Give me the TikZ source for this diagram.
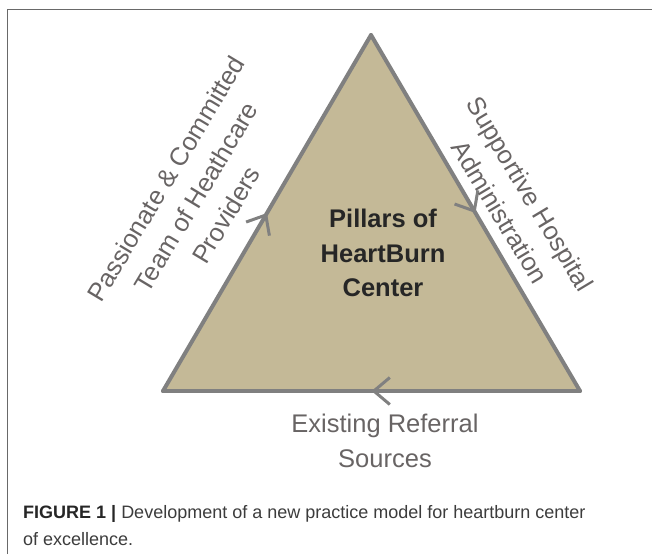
\documentclass[tikz,border=0pt]{standalone}
\usepackage{fontspec}
\setmainfont{Liberation Sans}
\usepackage{tikz}
\usetikzlibrary{arrows.meta, positioning, decorations.markings}

\definecolor{pillarfill}{RGB}{196,185,151}
\definecolor{edgegray}{RGB}{128,128,128}
\definecolor{labelgray}{RGB}{104,100,100}
\definecolor{framegray}{RGB}{105,105,105}
\definecolor{captext}{RGB}{60,60,60}

\begin{document}
\begin{tikzpicture}[
  x=1pt, y=-1pt,
  side/.style={draw=edgegray, line width=4pt, line cap=round},
  midarrow/.style={postaction={decorate}, decoration={markings,
      mark=at position 0.5 with {\arrow{Straight Barb[length=16pt, width=27pt, line width=3pt]}}}},
  centerlbl/.style={align=center, inner sep=0pt, text=black!85, font=\fontsize{25.5}{34.5}\selectfont\bfseries},
  sidelbl/.style={align=center, inner sep=0pt, text=labelgray, font=\fontsize{25.5}{35}\selectfont},
  caption/.style={align=left, anchor=north west, inner sep=0pt, text=captext, font=\fontsize{18}{27}\selectfont}
]
\useasboundingbox (0,0) rectangle (652,554);

% Frame
\draw[framegray, line width=1.5pt] (7.5,554) -- (7.5,9.5) -- (652,9.5);

% Triangle
\coordinate (top_pt) at (371,35);
\coordinate (left_pt) at (163,391);
\coordinate (right_pt) at (580,391);

\fill[pillarfill] (left_pt) -- (top_pt) -- (right_pt) -- cycle;
\draw[side, midarrow] (left_pt) -- (top_pt);
\draw[side, midarrow] (top_pt) -- (right_pt);
\draw[side, midarrow] (right_pt) -- (left_pt);

\node[centerlbl] (pillars) at (383,253) {Pillars of\\HeartBurn\\Center};

% Side labels
\node[sidelbl, rotate=59] (team_lbl) at (196,197) {Passionate \& Committed\\Team of Heathcare\\Providers};
\node[sidelbl, rotate=-59] (admin_lbl) at (515,203) {Supportive Hospital\\Administration};
\node[sidelbl] (ref_lbl) at (385,441) {Existing Referral\\Sources};

% Caption
\node[caption] (fig_caption) at (23,505) {{\bfseries\color{black!85}FIGURE 1 |} Development of a new practice model for heartburn center\\of excellence.};

\end{tikzpicture}
\end{document}
